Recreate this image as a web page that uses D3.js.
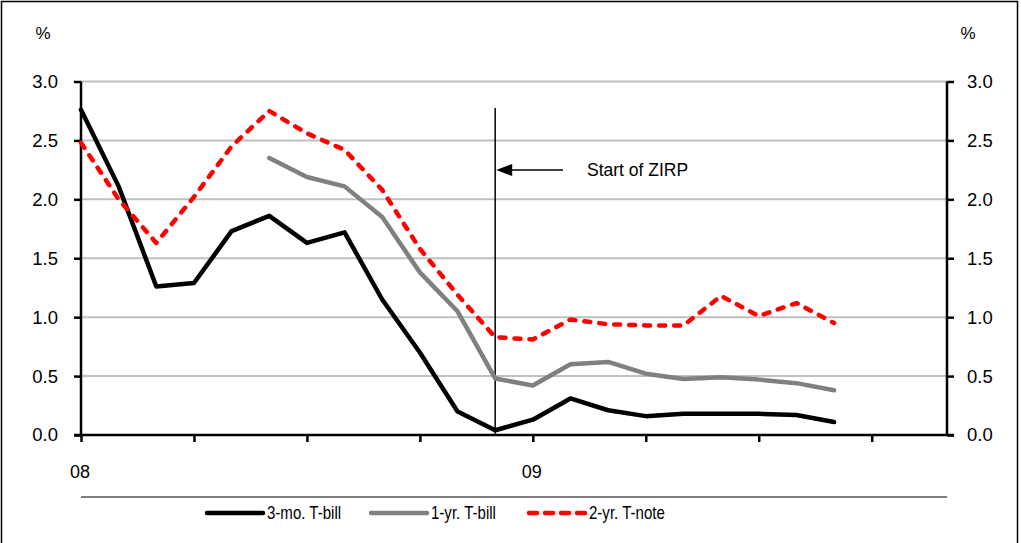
<!DOCTYPE html>
<html>
<head>
<meta charset="utf-8">
<script src="https://cdn.jsdelivr.net/npm/d3@7"></script>
<style>
  body { margin: 0; background: #fff; }
  svg { display: block; }
  text { font-family: "Liberation Sans", Arial, sans-serif; fill: #000; }
</style>
</head>
<body>
<svg id="chart" width="1021" height="543"></svg>
<script>
"use strict";

// monthly observations, Jan 2008 .. Sep 2009
var months = ["2008-01", "2008-02", "2008-03", "2008-04", "2008-05", "2008-06", "2008-07",
  "2008-08", "2008-09", "2008-10", "2008-11", "2008-12", "2009-01", "2009-02", "2009-03",
  "2009-04", "2009-05", "2009-06", "2009-07", "2009-08", "2009-09"]
var bill3m = [2.76, 2.11, 1.26, 1.29, 1.73, 1.86, 1.63, 1.72, 1.15, 0.70, 0.20,
  0.04, 0.13, 0.31, 0.21, 0.16, 0.18, 0.18, 0.18, 0.17, 0.11]
var bill1y = [null, null, null, null, null, 2.35, 2.19, 2.11, 1.85, 1.38, 1.05,
  0.48, 0.42, 0.60, 0.62, 0.52, 0.475, 0.49, 0.47, 0.44, 0.38]
var note2y = [2.48, 2.00, 1.63, 2.02, 2.45, 2.75, 2.56, 2.42, 2.08, 1.58, 1.19,
  0.83, 0.81, 0.98, 0.94, 0.93, 0.93, 1.18, 1.01, 1.12, 0.95]
var yTicks = [0, 0.5, 1.0, 1.5, 2.0, 2.5, 3.0]
var yearLabels = [{ month: 0, label: "08" }, { month: 12, label: "09" }]
var zirpMonth = 11
var seriesNames = ["3-mo. T-bill", "1-yr. T-bill", "2-yr. T-note"]

var svg = d3.select("#chart")
var plotLeft = 81, plotRight = 947, plotTop = 81.5, plotBottom = 435
var narrow = 0.86 // legend text is set condensed

// outer frame (bottom edge falls just off the picture)
svg.append("rect")
  .attr("x", 1.5).attr("y", 1.5)
  .attr("width", 1016).attr("height", 550)
  .attr("fill", "none").attr("stroke", "#000").attr("stroke-width", 1.5)

// x runs over month index; the axis ends at Dec 2009 (index 23)
var x = d3.scaleLinear().domain([0, 23]).range([plotLeft, plotRight])
var y = d3.scaleLinear().domain([0, 3]).range([plotBottom, plotTop])

// grid lines
svg.append("g")
  .selectAll("line")
  .data(yTicks.filter(function(d) { return d > 0 }))
  .enter()
  .append("line")
    .attr("x1", plotLeft).attr("x2", plotRight)
    .attr("y1", function(d) { return y(d) })
    .attr("y2", function(d) { return y(d) })
    .attr("stroke", "#c0c0c0").attr("stroke-width", 2)

// left and right axes
var fmt = d3.format(".1f")
var yLeft = svg.append("g")
  .attr("transform", "translate(" + plotLeft + ",0)")
  .call(d3.axisLeft(y).tickValues(yTicks).tickFormat(fmt).tickSize(7).tickPadding(16))
var yRight = svg.append("g")
  .attr("transform", "translate(" + plotRight + ",0)")
  .call(d3.axisRight(y).tickValues(yTicks).tickFormat(fmt).tickSize(7).tickPadding(13))

// bottom axis, quarterly ticks
var xAxis = svg.append("g")
  .attr("transform", "translate(0," + plotBottom + ")")
  .call(d3.axisBottom(x).tickValues(d3.range(0, 22, 3)).tickFormat("").tickSize(7).tickSizeOuter(0))

;[yLeft, yRight, xAxis].forEach(function(g) {
  g.select(".domain").attr("stroke", "#000").attr("stroke-width", 2.5)
  g.selectAll(".tick line").attr("stroke", "#000").attr("stroke-width", 2.5)
  g.selectAll("text")
    .style("font-family", "\"Liberation Sans\", Arial, sans-serif")
    .style("font-size", "18.5px").attr("fill", "#000")
})
// domain paths without the outer end ticks
yLeft.select(".domain").attr("d", "M0," + plotTop + "V" + plotBottom)
yRight.select(".domain").attr("d", "M0," + plotTop + "V" + plotBottom)
xAxis.select(".domain").attr("d", "M" + (plotLeft - 7) + ",0H" + (plotRight + 7))

svg.append("g")
  .selectAll("text")
  .data(yearLabels)
  .enter()
  .append("text")
    .attr("x", function(d) { return x(d.month) - 1 })
    .attr("y", 478)
    .attr("text-anchor", "middle")
    .style("font-size", "18px")
    .text(function(d) { return d.label })

svg.append("text").attr("x", 43).attr("y", 39).attr("text-anchor", "middle")
  .style("font-size", "17px").text("%")
svg.append("text").attr("x", 968).attr("y", 39).attr("text-anchor", "middle")
  .style("font-size", "17px").text("%")

// ZIRP marker
svg.append("line")
  .attr("x1", x(zirpMonth)).attr("x2", x(zirpMonth))
  .attr("y1", 108).attr("y2", plotBottom)
  .attr("stroke", "#000").attr("stroke-width", 1.5)
svg.append("line")
  .attr("x1", x(zirpMonth) + 14).attr("x2", 563)
  .attr("y1", 170).attr("y2", 170)
  .attr("stroke", "#000").attr("stroke-width", 1.5)
svg.append("path")
  .attr("d", "M" + (x(zirpMonth) + 1) + ",170L" + (x(zirpMonth) + 17) + ",164L" + (x(zirpMonth) + 17) + ",176Z")
  .attr("fill", "#000")
svg.append("text").attr("x", 587).attr("y", 176)
  .style("font-size", "17.5px").text("Start of ZIRP")

// series lines
var series = [
  { name: seriesNames[0], values: bill3m, color: "#000000", width: 4.5, dash: null },
  { name: seriesNames[1], values: bill1y, color: "#808080", width: 4.5, dash: null },
  { name: seriesNames[2], values: note2y, color: "#ff0000", width: 4.5, dash: "6,9" }
]

var line = d3.line()
  .defined(function(d) { return d != null })
  .x(function(d, i) { return x(i) })
  .y(function(d) { return y(d) })

series.forEach(function(s) {
  svg.append("path")
    .datum(s.values)
    .attr("d", line)
    .attr("fill", "none")
    .attr("stroke", s.color)
    .attr("stroke-width", s.width)
    .attr("stroke-linejoin", "round")
    .attr("stroke-linecap", "round")
    .attr("stroke-dasharray", s.dash)
})

// legend
svg.append("line")
  .attr("x1", plotLeft).attr("x2", plotRight).attr("y1", 497).attr("y2", 497)
  .attr("stroke", "#555").attr("stroke-width", 1.5)

var legendX = [205, 369, 527]
var legend = svg.append("g")
  .selectAll("g")
  .data(series)
  .enter()
  .append("g")
    .attr("transform", function(d, i) { return "translate(" + legendX[i] + ",513)" })

legend.append("line")
  .attr("x1", 2).attr("x2", 58).attr("y1", 0).attr("y2", 0)
  .attr("stroke", function(d) { return d.color })
  .attr("stroke-width", 4.5)
  .attr("stroke-linecap", "round")
  .attr("stroke-dasharray", function(d) { return d.dash ? "8,8" : null })
legend.append("text")
  .attr("transform", "translate(62,6) scale(" + narrow + ",1)")
  .style("font-size", "17.5px")
  .text(function(d) { return d.name })
</script>
</body>
</html>
